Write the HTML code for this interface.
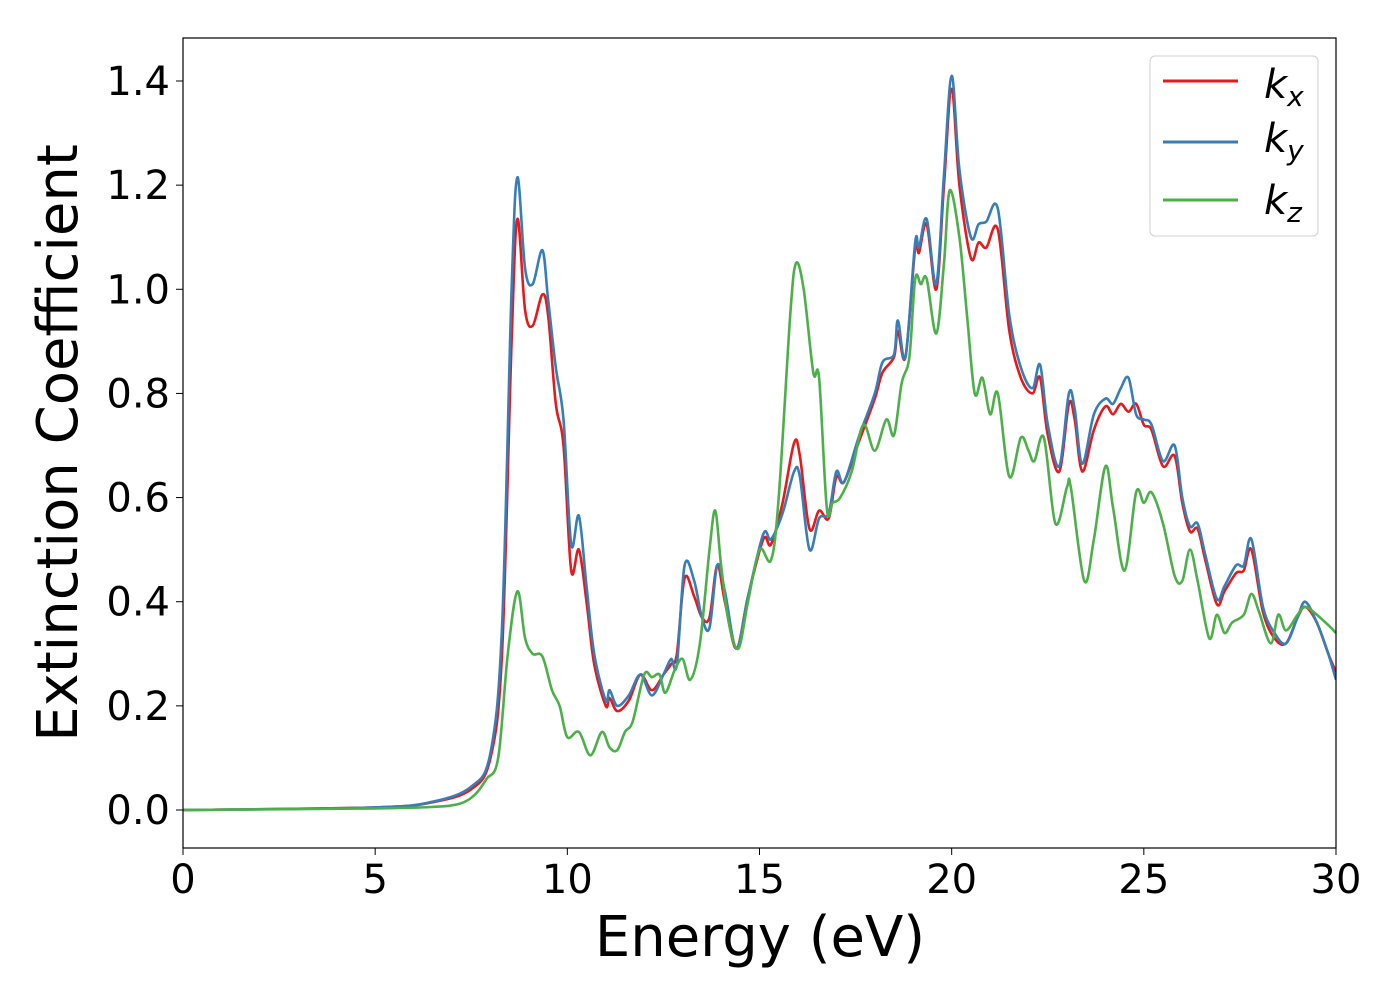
<!DOCTYPE html>
<html><head><meta charset="utf-8"><style>
body{margin:0;background:#fff}
svg text{font-family:"DejaVu Sans","Liberation Sans",sans-serif;fill:#000}
</style></head><body>
<svg id="chart" width="1400" height="1000" viewBox="0 0 1400 1000" xmlns="http://www.w3.org/2000/svg">
<rect x="0" y="0" width="1400" height="1000" fill="#fff"/>
<g id="series"></g>
<rect x="183" y="38" width="1153" height="810" fill="none" stroke="#000" stroke-width="1.2"/>
<g id="xticks"></g>
<g id="yticks"></g>
<text x="760" y="956" font-size="56" text-anchor="middle">Energy (eV)</text>
<text transform="translate(77,443) rotate(-90)" font-size="56" text-anchor="middle">Extinction Coefficient</text>
<g>
<rect x="1150" y="56" width="168" height="180" rx="5" fill="#fff" fill-opacity="0.8" stroke="#d0d0d0" stroke-width="1"/>
<g><line x1="1163" y1="81" x2="1238" y2="81" stroke="#e41a1c" stroke-width="3"/><text x="1264" y="98" font-size="40" font-style="italic">k<tspan font-size="28" dy="8">x</tspan></text></g>
<g><line x1="1163" y1="142" x2="1238" y2="142" stroke="#377eb8" stroke-width="3"/><text x="1264" y="152" font-size="40" font-style="italic">k<tspan font-size="28" dy="8">y</tspan></text></g>
<g><line x1="1163" y1="200" x2="1238" y2="200" stroke="#4daf4a" stroke-width="3"/><text x="1264" y="214" font-size="40" font-style="italic">k<tspan font-size="28" dy="8">z</tspan></text></g>
</g>
</svg>
<script>
const xTicks=[0,5,10,15,20,25,30];
const yTicks=[0.0,0.2,0.4,0.6,0.8,1.0,1.2,1.4];
const kxE=[0,5,6.5,7.5,8,8.3,8.55,8.7,8.9,9.1,9.35,9.5,9.7,9.9,10.1,10.3,10.5,10.7,11,11.1,11.3,11.6,11.9,12.2,12.5,12.7,12.85,13.05,13.3,13.5,13.7,13.9,14.1,14.4,14.7,15.1,15.3,15.6,15.9,16.05,16.3,16.55,16.8,17.0,17.2,17.6,18.0,18.2,18.5,18.6,18.8,19.05,19.15,19.35,19.6,19.8,20.0,20.2,20.5,20.7,20.9,21.2,21.5,21.8,22.1,22.3,22.5,22.8,23.05,23.2,23.4,23.7,24.0,24.2,24.4,24.6,24.8,25.0,25.2,25.5,25.8,26.0,26.2,26.4,26.6,26.9,27.1,27.4,27.6,27.8,28.1,28.4,28.7,29.0,29.2,29.5,29.8,30];
const kxV=[0,0.005,0.015,0.04,0.1,0.3,0.9,1.135,0.96,0.93,0.99,0.95,0.78,0.7,0.46,0.5,0.4,0.28,0.2,0.215,0.19,0.21,0.26,0.23,0.26,0.28,0.3,0.445,0.41,0.37,0.37,0.47,0.4,0.31,0.41,0.52,0.51,0.59,0.705,0.68,0.54,0.575,0.56,0.64,0.63,0.71,0.79,0.84,0.87,0.92,0.87,1.08,1.07,1.125,1.0,1.2,1.385,1.2,1.06,1.09,1.08,1.115,0.92,0.83,0.8,0.83,0.72,0.65,0.78,0.75,0.65,0.73,0.775,0.76,0.78,0.765,0.78,0.74,0.73,0.66,0.68,0.59,0.535,0.54,0.48,0.395,0.42,0.455,0.46,0.5,0.38,0.33,0.32,0.37,0.39,0.36,0.3,0.265];
const kyE=kxE;
const kyV=[0,0.005,0.016,0.045,0.11,0.35,1.0,1.215,1.04,1.01,1.075,0.98,0.85,0.75,0.51,0.565,0.43,0.3,0.21,0.23,0.2,0.22,0.26,0.22,0.26,0.29,0.28,0.47,0.44,0.37,0.35,0.47,0.42,0.31,0.41,0.53,0.52,0.57,0.65,0.64,0.5,0.56,0.57,0.65,0.63,0.72,0.8,0.86,0.875,0.94,0.87,1.09,1.08,1.135,1.01,1.22,1.41,1.23,1.1,1.125,1.13,1.155,0.95,0.85,0.81,0.855,0.74,0.66,0.8,0.77,0.665,0.76,0.79,0.78,0.81,0.83,0.76,0.75,0.74,0.67,0.7,0.6,0.545,0.55,0.49,0.405,0.43,0.47,0.47,0.52,0.39,0.34,0.32,0.37,0.4,0.36,0.3,0.25];
const kzE=[0,5,6.5,7.2,7.6,7.9,8.2,8.45,8.7,8.9,9.1,9.35,9.6,9.8,10.0,10.3,10.6,10.9,11.1,11.3,11.5,11.7,12.0,12.2,12.4,12.55,12.8,13.0,13.2,13.45,13.7,13.85,14.0,14.2,14.45,14.7,15.0,15.3,15.5,15.8,15.95,16.15,16.4,16.55,16.75,16.9,17.1,17.4,17.7,18.0,18.3,18.5,18.7,18.9,19.05,19.2,19.35,19.6,19.8,19.95,20.2,20.4,20.6,20.8,21.0,21.2,21.5,21.8,22.0,22.15,22.4,22.7,23.0,23.1,23.45,23.7,24.0,24.2,24.5,24.8,25.0,25.2,25.5,25.8,26.0,26.2,26.4,26.7,26.9,27.1,27.3,27.6,27.8,28.0,28.3,28.5,28.7,29.0,29.2,29.5,29.8,30];
const kzV=[0,0.003,0.006,0.012,0.03,0.06,0.1,0.3,0.42,0.33,0.3,0.295,0.23,0.2,0.14,0.15,0.105,0.15,0.12,0.115,0.15,0.17,0.26,0.255,0.26,0.225,0.27,0.29,0.25,0.32,0.5,0.575,0.47,0.36,0.31,0.4,0.5,0.48,0.6,0.95,1.05,1.0,0.84,0.83,0.58,0.59,0.6,0.65,0.74,0.69,0.75,0.72,0.82,0.87,1.02,1.01,1.02,0.915,1.05,1.19,1.1,0.95,0.8,0.83,0.76,0.8,0.64,0.715,0.69,0.67,0.715,0.55,0.62,0.62,0.44,0.52,0.66,0.58,0.46,0.61,0.59,0.61,0.55,0.45,0.44,0.5,0.44,0.33,0.375,0.34,0.36,0.375,0.415,0.38,0.32,0.375,0.345,0.375,0.39,0.375,0.355,0.34];

const X0=183,X1=1336,Y0=810,Y14=81;
function xs(e){return X0+(e/30)*(X1-X0);}
function ys(v){return Y0-(v/1.4)*(Y0-Y14);}
const NS='http://www.w3.org/2000/svg';
function pathFor(E,V){
  const p=E.map((e,i)=>[xs(e),ys(V[i])]);
  let d='M'+p[0][0].toFixed(1)+','+p[0][1].toFixed(1);
  for(let i=0;i<p.length-1;i++){
    const a=p[Math.max(0,i-1)],b=p[i],c=p[i+1],n=p[Math.min(p.length-1,i+2)];
    const c1x=b[0]+(c[0]-a[0])/6,c1y=b[1]+(c[1]-a[1])/6;
    const c2x=c[0]-(n[0]-b[0])/6,c2y=c[1]-(n[1]-b[1])/6;
    d+=' C'+c1x.toFixed(1)+','+c1y.toFixed(1)+' '+c2x.toFixed(1)+','+c2y.toFixed(1)+' '+c[0].toFixed(1)+','+c[1].toFixed(1);
  }
  return d;
}
const g=document.getElementById('series');
const defs=document.createElementNS(NS,'clipPath');defs.setAttribute('id','clip');
const cr=document.createElementNS(NS,'rect');cr.setAttribute('x',X0);cr.setAttribute('y',38);cr.setAttribute('width',X1-X0);cr.setAttribute('height',810);
defs.appendChild(cr);g.appendChild(defs);
g.setAttribute('clip-path','url(#clip)');
[['kx',kxE,kxV,'#e41a1c'],['ky',kyE,kyV,'#377eb8'],['kz',kzE,kzV,'#4daf4a']].forEach(s=>{
  const el=document.createElementNS(NS,'path');
  el.setAttribute('d',pathFor(s[1],s[2]));
  el.setAttribute('fill','none');el.setAttribute('stroke',s[3]);el.setAttribute('stroke-width','2.6');
  
  
  g.appendChild(el);
});
const xt=document.getElementById('xticks');
xTicks.forEach(t=>{
  const l=document.createElementNS(NS,'line');
  l.setAttribute('x1',xs(t));l.setAttribute('x2',xs(t));l.setAttribute('y1',848);l.setAttribute('y2',855);l.setAttribute('stroke','#000');
  
  
  xt.appendChild(l);
  const tx=document.createElementNS(NS,'text');
  tx.setAttribute('x',xs(t));tx.setAttribute('y',893);tx.setAttribute('font-size','40');tx.setAttribute('text-anchor','middle');
  tx.textContent=t;
  
  
  xt.appendChild(tx);
});
const yt=document.getElementById('yticks');
yTicks.forEach(t=>{
  const l=document.createElementNS(NS,'line');
  l.setAttribute('x1',176);l.setAttribute('x2',183);l.setAttribute('y1',ys(t));l.setAttribute('y2',ys(t));l.setAttribute('stroke','#000');
  
  
  yt.appendChild(l);
  const tx=document.createElementNS(NS,'text');
  tx.setAttribute('x',170);tx.setAttribute('y',ys(t)+14);tx.setAttribute('font-size','40');tx.setAttribute('text-anchor','end');
  tx.textContent=t.toFixed(1);
  
  
  yt.appendChild(tx);
});
</script>
</body></html>
